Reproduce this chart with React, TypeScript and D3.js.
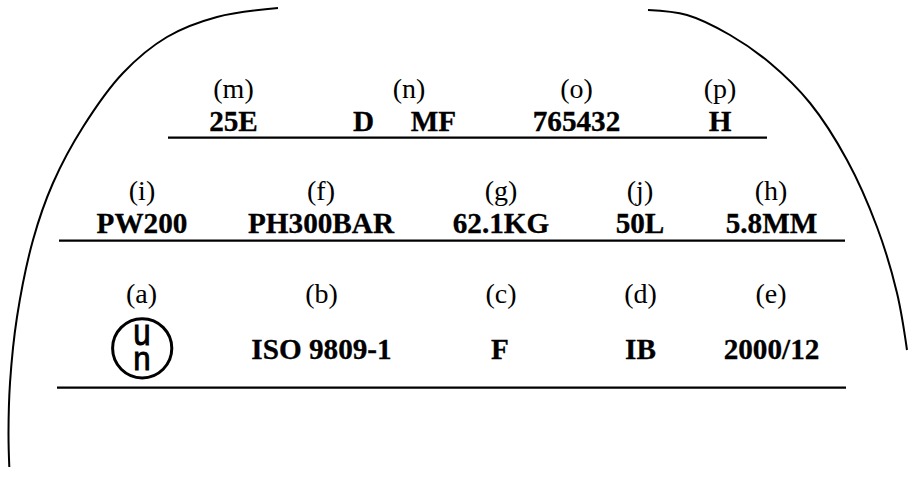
import React from "react";
import * as d3 from "d3";

const leftCurve: [number, number][] = [[9.3,467],[8.5,433],[10,383],[17,317],[33,240],[53,183],[83,127],[123,73],[167,37],[217,17],[278,8]];
const rightCurve: [number, number][] = [[648,10],[687,15],[730,35],[770,63],[810,103],[847,160],[877,227],[897,293],[907,350]];

const row1Labels = ["(m)","(n)","(o)","(p)"];
const row1LabelX = [233.5,409,576.5,720];
const row1Values = ["25E","D","MF","765432","H"];
const row1ValueX = [233.5,363.6,433.5,576.5,720];
const row2Labels = ["(i)","(f)","(g)","(j)","(h)"];
const row2LabelX = [142,321,501,640,771];
const row2Values = ["PW200","PH300BAR","62.1KG","50L","5.8MM"];
const row2ValueX = [142,321,501,640,771.5];
const row3Labels = ["(a)","(b)","(c)","(d)","(e)"];
const row3LabelX = [141.5,321.5,501,640.5,771];
const row3Values = ["ISO 9809-1","F","IB","2000/12"];
const row3ValueX = [321.5,500,640.5,771.5];
const rules: [number, number, number][] = [[168,767,137.7],[59,845,240.7],[57,846,387.7]];

const line = d3.line<[number, number]>().x(d => d[0]).y(d => d[1]).curve(d3.curveCatmullRom.alpha(0.5));
const serif = "'Liberation Serif', serif";

function Row({ labels, lx, ly, values, vx, vy }: { labels: string[]; lx: number[]; ly: number; values: string[]; vx: number[]; vy: number }) {
  return (
    <g fontFamily={serif} textAnchor="middle" fill="#000">
      {labels.map((t, i) => <text key={t} x={lx[i]} y={ly} fontSize={28}>{t}</text>)}
      {values.map((t, i) => <text key={t} x={vx[i]} y={vy} fontSize={29.2} fontWeight="bold" stroke="#000" strokeWidth={0.3}>{t}</text>)}
    </g>
  );
}

export default function App() {
  return (
    <svg width={908} height={477} style={{ position: "absolute", left: 0, top: 0, background: "#fff" }}>
      <path d={line(leftCurve) ?? ""} fill="none" stroke="#000" strokeWidth={2} />
      <path d={line(rightCurve) ?? ""} fill="none" stroke="#000" strokeWidth={2} />
      {rules.map(([a, b, y]) => <line key={y} x1={a} x2={b} y1={y} y2={y} stroke="#000" strokeWidth={2.2} />)}
      <Row labels={row1Labels} lx={row1LabelX} ly={98} values={row1Values} vx={row1ValueX} vy={130.5} />
      <Row labels={row2Labels} lx={row2LabelX} ly={200} values={row2Values} vx={row2ValueX} vy={232.5} />
      <Row labels={row3Labels} lx={row3LabelX} ly={303} values={row3Values} vx={row3ValueX} vy={359} />
      <circle cx={142.2} cy={348.3} r={29.6} fill="none" stroke="#000" strokeWidth={3} />
      <g fontFamily="'Liberation Sans', sans-serif" fontSize={26} textAnchor="middle" fill="#000" stroke="#000" strokeWidth={0.7}>
        <text transform="translate(142,345) scale(1.2,1.45)">u</text>
        <text transform="translate(142,370) scale(1.2,1.25)">n</text>
      </g>
    </svg>
  );
}
